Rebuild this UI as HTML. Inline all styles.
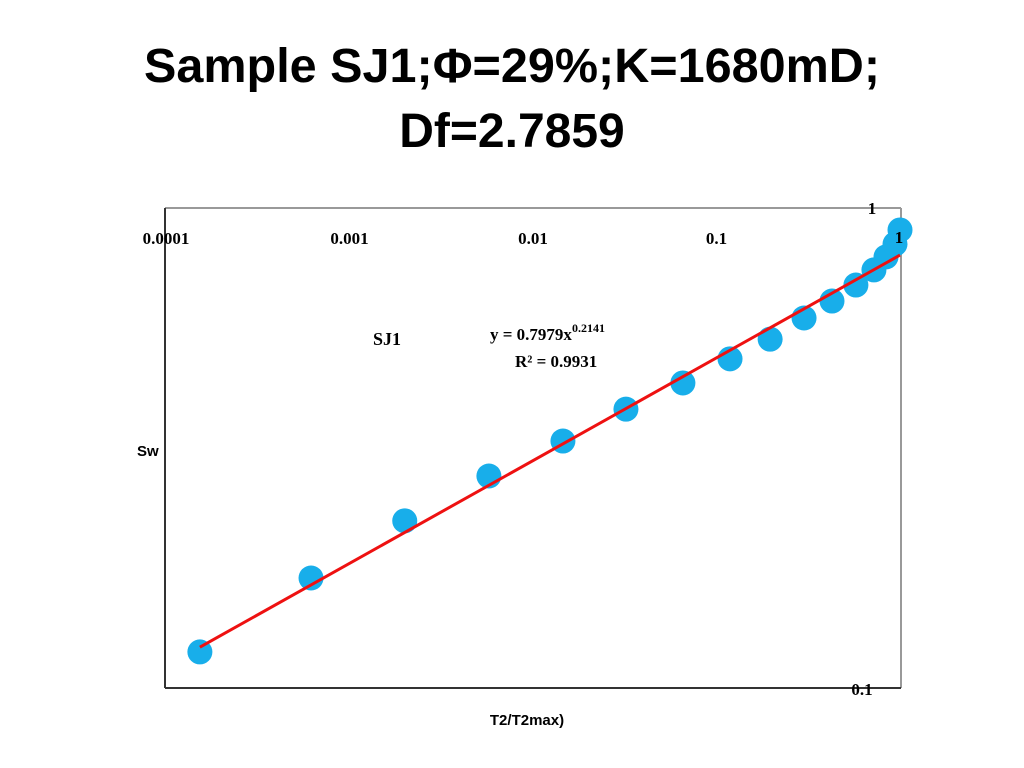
<!DOCTYPE html>
<html><head><meta charset="utf-8"><style>
html,body{margin:0;padding:0;background:#fff;width:1024px;height:768px;overflow:hidden}
svg{display:block}
</style></head><body>
<svg id="chart" width="1024" height="768">
<text x="512" y="82" text-anchor="middle" font-family="Liberation Sans, sans-serif" font-weight="bold" font-size="48" textLength="736" lengthAdjust="spacingAndGlyphs">Sample SJ1;Φ=29%;K=1680mD;</text>
<text x="512" y="147" text-anchor="middle" font-family="Liberation Sans, sans-serif" font-weight="bold" font-size="48">Df=2.7859</text>
<line x1="165" y1="208" x2="901" y2="208" stroke="#999" stroke-width="2"/>
<line x1="901" y1="208" x2="901" y2="688" stroke="#999" stroke-width="2"/>
<line x1="165" y1="208" x2="165" y2="688" stroke="#333" stroke-width="2"/>
<line x1="165" y1="688" x2="901" y2="688" stroke="#333" stroke-width="2"/>
<g id="points"></g>
<g id="fit"></g>
<g id="xticks"></g>
<text x="872" y="214" text-anchor="middle" font-family="Liberation Serif, serif" font-weight="bold" font-size="17">1</text>
<text x="862" y="695" text-anchor="middle" font-family="Liberation Serif, serif" font-weight="bold" font-size="17">0.1</text>
<text x="137" y="456" font-family="Liberation Sans, sans-serif" font-weight="bold" font-size="15">Sw</text>
<text x="527" y="725" text-anchor="middle" font-family="Liberation Sans, sans-serif" font-weight="bold" font-size="15">T2/T2max)</text>
<text x="373" y="345" font-family="Liberation Serif, serif" font-weight="bold" font-size="18">SJ1</text>
<text x="490" y="340" font-family="Liberation Serif, serif" font-weight="bold" font-size="17">y = 0.7979x<tspan dy="-8" font-size="12">0.2141</tspan></text>
<text x="515" y="367" font-family="Liberation Serif, serif" font-weight="bold" font-size="17">R² = 0.9931</text>
</svg>
<script>
const xValues=[0.000153,0.000617,0.0020,0.00575,0.01456,0.0321,0.0656,0.1185,0.196,0.300,0.426,0.575,0.721,0.839,0.939,1.0];
const swValues=[0.1189,0.1695,0.223,0.2765,0.327,0.381,0.432,0.485,0.533,0.590,0.640,0.691,0.743,0.791,0.841,0.900];
const xTickValues=[0.0001,0.001,0.01,0.1,1];
const xTickLabels=["0.0001","0.001","0.01","0.1","1"];
const fitCoef=0.7979, fitExp=0.2141;
const NS="http://www.w3.org/2000/svg";
function xs(v){return 166+(Math.log10(v)+4)*183.5;}
function ys(v){return 208-Math.log10(v)*480;}
const xt=document.getElementById('xticks');
xTickValues.forEach((v,i)=>{
  const t=document.createElementNS(NS,'text');
  const last=i===xTickValues.length-1;
  t.setAttribute('x',last?xs(v)-1:xs(v));
  t.setAttribute('y',last?243:244);
  t.setAttribute('text-anchor','middle');
  t.setAttribute('font-family','Liberation Serif, serif');
  t.setAttribute('font-weight','bold');
  t.setAttribute('font-size','17');
  t.textContent=xTickLabels[i];
  
  
  xt.appendChild(t);
});
const pg=document.getElementById('points');
xValues.forEach((x,i)=>{
  const c=document.createElementNS(NS,'circle');
  c.setAttribute('cx',xs(x));c.setAttribute('cy',ys(swValues[i]));
  c.setAttribute('r',12.5);c.setAttribute('fill','#18aeea');
  
  
  pg.appendChild(c);
});
const fg=document.getElementById('fit');
const x0=xValues[0],x1=1;
const l=document.createElementNS(NS,'line');
l.setAttribute('x1',xs(x0));l.setAttribute('y1',ys(fitCoef*Math.pow(x0,fitExp)));
l.setAttribute('x2',xs(x1));l.setAttribute('y2',ys(fitCoef*Math.pow(x1,fitExp)));
l.setAttribute('stroke','#ee1111');l.setAttribute('stroke-width','3');


fg.appendChild(l);
</script>
</body></html>
